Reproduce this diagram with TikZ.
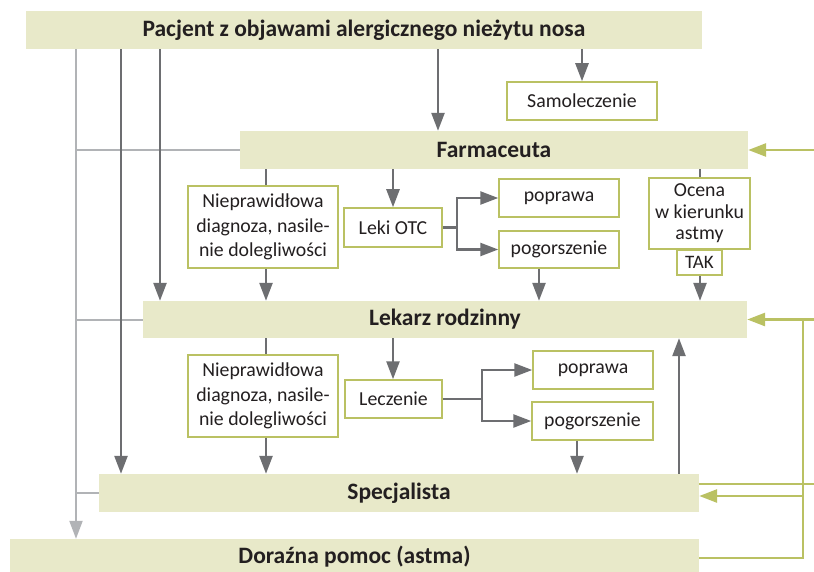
\documentclass[tikz,border=0pt]{standalone}
\usepackage{fontspec}
\setmainfont{Carlito}
\usetikzlibrary{arrows.meta}
\definecolor{beige}{RGB}{232,233,201}
\definecolor{olive}{RGB}{186,193,99}
\definecolor{dgray}{RGB}{109,110,113}
\definecolor{lgray}{RGB}{177,179,182}
\definecolor{txt}{RGB}{35,31,32}
\begin{document}
\begin{tikzpicture}[x=1pt,y=-1pt,
 mainbox/.style={fill=beige, inner sep=0pt, text=txt, font=\fontsize{23.5}{27}\selectfont\bfseries},
 subbox/.style={draw=olive, line width=1.5pt, fill=white, inner sep=0pt, text=txt, align=center, font=\fontsize{19.8}{24.5}\selectfont},
 dk/.style={draw=dgray, line width=2.5pt},
 darr/.style={dk, -{Triangle[length=18pt,width=13pt]}},
 lg/.style={draw=lgray, line width=2pt},
 larr/.style={lg, -{Triangle[length=18pt,width=13pt]}},
 gn/.style={draw=olive, line width=2.8pt},
 garr/.style={gn, -{Triangle[length=18pt,width=13pt]}},
]
\fill[white] (0,0) rectangle (814,572);
\useasboundingbox (0,0) rectangle (814,572);

% main boxes
\node[mainbox, minimum width=676pt, minimum height=38pt] (pac) at (364,30) {Pacjent z objawami alergicznego nieżytu nosa};
\node[mainbox, minimum width=508pt, minimum height=38pt] (far) at (494,150) {Farmaceuta};
\node[mainbox, minimum width=604pt, minimum height=37pt] (lek) at (445,319.5) {Lekarz rodzinny};
\node[mainbox, minimum width=600pt, minimum height=38pt] (spe) at (399,493) {Specjalista};
\node[mainbox, minimum width=689pt, minimum height=36pt] (dor) at (354.5,557) {Doraźna pomoc (astma)};

% white boxes
\node[subbox, minimum width=150pt, minimum height=38pt] (sam) at (582,101) {Samoleczenie};
\node[subbox, minimum width=150pt, minimum height=82pt] (nie1) at (263,227) {Nieprawidłowa\\diagnoza, nasile-\\nie dolegliwości};
\node[subbox, minimum width=98pt, minimum height=39pt] (otc) at (393,227.5) {Leki OTC};
\node[subbox, minimum width=120pt, minimum height=38pt] (pop1) at (559,198) {poprawa};
\node[subbox, minimum width=120pt, minimum height=37pt] (pog1) at (559,249.5) {pogorszenie};
\node[subbox, minimum width=101pt, minimum height=71pt, font=\fontsize{19.8}{21.5}\selectfont] (oc) at (699.5,213.5) {Ocena\\w kierunku\\astmy};
\node[subbox, minimum width=45pt, minimum height=25pt, font=\fontsize{19}{20}\selectfont] (tak) at (699.5,262.5) {TAK};
\node[subbox, minimum width=150pt, minimum height=82pt] (nie2) at (263,396) {Nieprawidłowa\\diagnoza, nasile-\\nie dolegliwości};
\node[subbox, minimum width=97pt, minimum height=38pt] (lec) at (393.5,399) {Leczenie};
\node[subbox, minimum width=120pt, minimum height=38pt] (pop2) at (593,370) {poprawa};
\node[subbox, minimum width=121pt, minimum height=38pt] (pog2) at (592.5,421) {pogorszenie};

% column helpers
\coordinate (c76) at (76,0);
\coordinate (c121) at (121,0);
\coordinate (c160) at (160,0);
\coordinate (c266) at (266,0);
\coordinate (c393) at (393,0);
\coordinate (c438) at (438,0);
\coordinate (c457) at (457,0);
\coordinate (c482) at (482,0);
\coordinate (c539) at (539,0);
\coordinate (c577) at (577,0);
\coordinate (c679) at (679,0);
\coordinate (c700) at (700,0);
\coordinate (c803) at (803,0);
\coordinate (c814) at (814,0);
\coordinate (g484) at (814,484);
\coordinate (g496) at (803,496);
\coordinate (g558) at (803,558);

% light gray
\draw[lg] (far.west) -- (far.west -| c76);
\draw[lg] (lek.west) -- (lek.west -| c76);
\draw[lg] (spe.west) -- (spe.west -| c76);
\draw[larr] (pac.south -| c76) -- (dor.north -| c76);

% dark gray
\draw[darr] (pac.south -| c121) -- (spe.north -| c121);
\draw[darr] (pac.south -| c160) -- (lek.north -| c160);
\draw[darr] (pac.south -| c438) -- (far.north -| c438);
\draw[darr] (pac.south -| sam.north) -- (sam.north);

\draw[dk] (far.south -| c266) -- (nie1.north -| c266);
\draw[darr] (nie1.south -| c266) -- (lek.north -| c266);
\draw[darr] (far.south -| c393) -- (otc.north -| c393);
\draw[dk] (otc.east) -- (otc.east -| c457);
\draw[darr] (otc.east -| c457) |- (pop1.west);
\draw[darr] (otc.east -| c457) |- (pog1.west);
\draw[darr] (pog1.south -| c539) -- (lek.north -| c539);
\draw[dk] (far.south -| c700) -- (oc.north -| c700);
\draw[darr] (tak.south -| c700) -- (lek.north -| c700);

\draw[dk] (lek.south -| c266) -- (nie2.north -| c266);
\draw[darr] (nie2.south -| c266) -- (spe.north -| c266);
\draw[darr] (lek.south -| c393) -- (lec.north -| c393);
\draw[dk] (lec.east) -- (lec.east -| c482);
\draw[darr] (lec.east -| c482) |- (pop2.west);
\draw[darr] (lec.east -| c482) |- (pog2.west);
\draw[darr] (pog2.south -| c577) -- (spe.north -| c577);
\draw[darr] (spe.north -| c679) -- (lek.south -| c679);

% green
\draw[garr] (far.east -| c814) -- (far.east);
\draw[garr] (lek.east -| c814) -- (lek.east);
\draw[gn] (lek.east -| c803) -- (g558) -- (g558 -| dor.east);
\draw[garr] (g496) -- (g496 -| spe.east);
\draw[gn] (g484) -- (g484 -| spe.east);
\end{tikzpicture}
\end{document}
